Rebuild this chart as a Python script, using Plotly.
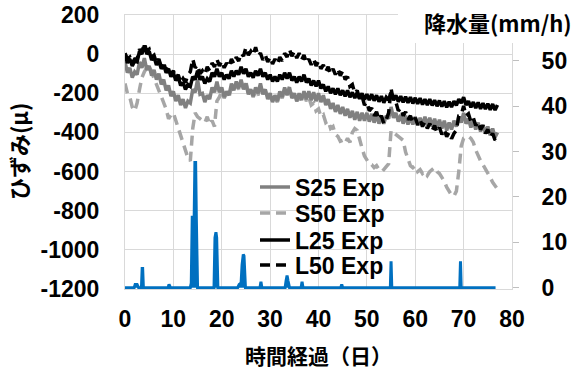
import plotly.graph_objects as go

# time axis (days), half-day steps from 0 to 77
t = [i * 0.5 for i in range(155)]

S25 = [-40, -95, -70, -120, -90, -105, -40, -70, -20, -80,
       -60, -110, -80, -130, -100, -155, -130, -185, -160, -215,
       -190, -240, -210, -260, -230, -275, -240, -250, -180, -195,
       -130, -205, -200, -245, -210, -230, -170, -195, -140, -195,
       -170, -220, -190, -210, -150, -185, -140, -175, -130, -180,
       -150, -205, -180, -215, -170, -200, -150, -205, -180, -230,
       -200, -245, -210, -240, -190, -220, -170, -210, -170, -225,
       -200, -240, -200, -235, -190, -230, -190, -235, -195, -240,
       -200, -245, -210, -260, -230, -280, -250, -295, -260, -305,
       -270, -315, -280, -325, -290, -335, -295, -340, -300, -340,
       -300, -345, -305, -350, -310, -355, -315, -355, -315, -330,
       -270, -325, -300, -345, -310, -355, -315, -360, -320, -360,
       -320, -365, -325, -362, -320, -365, -325, -370, -330, -375,
       -335, -380, -340, -390, -350, -385, -340, -370, -320, -350,
       -300, -355, -330, -375, -340, -385, -350, -395, -360, -405,
       -370, -415, -380, -425, -400]

S50 = [-150, -200, -220, -270, -290, -250, -180, -120, -90, -70,
       -60, -90, -130, -160, -190, -210, -240, -280, -330, -310,
       -300, -340, -380, -420, -460, -500, -530, -545, -380, -300,
       -320, -330, -340, -350, -320, -360, -340, -370, -240, -220,
       -190, -225, -200, -220, -170, -190, -155, -180, -145, -175,
       -140, -200, -185, -220, -190, -210, -160, -200, -185, -230,
       -210, -245, -225, -245, -200, -225, -180, -205, -165, -220,
       -205, -240, -215, -240, -205, -240, -220, -260, -250, -290,
       -280, -320, -310, -350, -340, -380, -370, -410, -420, -445,
       -440, -455, -430, -450, -400, -380, -390, -440, -480, -520,
       -540, -560, -565, -580, -570, -590, -580, -590, -575, -560,
       -390, -400, -410, -420, -425, -440, -500, -540, -570, -580,
       -570, -600, -590, -610, -600, -620, -600, -590, -580, -600,
       -610, -630, -650, -680, -700, -720, -725, -700, -600, -470,
       -430, -425, -420, -430, -450, -490, -520, -545, -565, -585,
       -605, -630, -655, -675, -690]

L25 = [-5, -45, -25, -60, -35, -40, 15, 0, 45, 0,
       15, -30, -15, -55, -35, -75, -55, -95, -75, -115,
       -95, -135, -115, -160, -145, -180, -155, -165, -115, -130,
       -85, -130, -115, -150, -125, -140, -95, -115, -75, -115,
       -95, -130, -105, -125, -85, -115, -85, -105, -65, -100,
       -75, -115, -95, -120, -85, -110, -75, -115, -95, -130,
       -105, -140, -115, -140, -105, -130, -95, -125, -95, -135,
       -115, -145, -115, -140, -105, -145, -125, -160, -135, -165,
       -135, -175, -155, -190, -165, -200, -175, -205, -175, -210,
       -185, -215, -185, -220, -195, -225, -195, -228, -200, -232,
       -205, -235, -205, -238, -210, -243, -215, -248, -220, -235,
       -195, -235, -210, -243, -215, -246, -217, -249, -220, -252,
       -223, -254, -225, -258, -230, -260, -230, -262, -235, -266,
       -237, -268, -240, -272, -243, -270, -240, -262, -230, -250,
       -220, -260, -240, -272, -245, -276, -247, -279, -250, -281,
       -253, -284, -255, -286, -260]

L50 = [5, -25, -15, -45, -25, -25, 25, 10, 55, 15,
       25, -15, -5, -45, -25, -65, -45, -85, -65, -105,
       -85, -125, -105, -145, -125, -145, -105, -90, -25, -70,
       -55, -100, -85, -105, -65, -85, -45, -65, -25, -60,
       -35, -70, -45, -65, -25, -50, -15, -35, 5, -10,
       35, -5, 15, -5, 35, -10, 5, -30, -5, -40,
       -15, -50, -25, -50, -15, -35, 5, -15, 25, -10,
       15, -20, 5, -30, -5, -45, -25, -55, -25, -60,
       -35, -75, -55, -90, -65, -100, -75, -105, -75, -110,
       -85, -130, -115, -165, -155, -200, -185, -230, -215, -260,
       -245, -290, -275, -315, -295, -335, -315, -355, -335, -300,
       -175, -240, -245, -290, -275, -315, -295, -335, -315, -350,
       -325, -360, -335, -370, -345, -380, -355, -390, -365, -400,
       -375, -410, -385, -422, -400, -432, -405, -390, -315, -310,
       -265, -315, -305, -345, -325, -365, -345, -385, -365, -405,
       -385, -425, -405, -440, -420]

rain_t = [0, 1.9, 2.1, 2.5, 2.8, 3.4, 3.55, 3.65, 3.8, 8.9, 9.1, 9.4,
          13.5, 13.7, 13.9, 14.3, 14.45, 14.6, 14.75, 15.0,
          18.4, 18.6, 18.8, 18.95, 19.2,
          23.3, 23.6, 24.0, 24.2, 24.45, 24.6, 24.9,
          27.9, 28.1, 28.3, 33.1, 33.3, 33.5, 33.7, 34.0,
          36.4, 36.6, 36.8, 44.6, 44.8, 45.0, 54.85, 55.0, 55.15,
          69.2, 69.35, 69.5, 76.6]
rain_v = [0, 0, 0.7, 0.7, 0, 0, 4.2, 4.2, 0, 0, 0.7, 0,
          0, 1, 15.5, 15.5, 27.6, 27.6, 15, 0,
          0, 11, 12.2, 11, 0,
          0, 0.7, 1, 5, 7.3, 7, 0,
          0, 1.3, 0, 0, 1.5, 2.7, 1.5, 0,
          0, 1.3, 0, 0, 0.7, 0, 0, 5.8, 0,
          0, 5.8, 0, 0]

x_ticks = [0, 10, 20, 30, 40, 50, 60, 70, 80]
y_ticks = [-1200, -1000, -800, -600, -400, -200, 0, 200]
y_ticklabels = ["-1200", "-1000", "-800", "-600", "-400", "-200", "0", "200"]
y2_ticks = [0, 10, 20, 30, 40, 50]

FONT = "Liberation Sans, Arial, Noto Sans CJK JP"
GRID = "#d9d9d9"
PLOT_L, PLOT_R, PLOT_T, PLOT_B = 125, 512, 15, 289
W, H = 576, 371


def px_x(px):
    return (px - PLOT_L) / (PLOT_R - PLOT_L)


def px_y(py):
    return (PLOT_B - py) / (PLOT_B - PLOT_T)


fig = go.Figure()
fig.add_trace(go.Scatter(x=t, y=S50, name="S50 Exp", mode="lines", legend="legend2",
                         line=dict(color="#a6a6a6", width=3.5, dash="10px,6px")))
fig.add_trace(go.Scatter(x=t, y=S25, name="S25 Exp", mode="lines", legend="legend",
                         line=dict(color="#808080", width=3.5)))
fig.add_trace(go.Scatter(x=t, y=L50, name="L50 Exp", mode="lines", legend="legend4",
                         line=dict(color="#000000", width=3.5, dash="10px,6px")))
fig.add_trace(go.Scatter(x=t, y=L25, name="L25 Exp", mode="lines", legend="legend3",
                         line=dict(color="#000000", width=3.5)))
fig.add_trace(go.Scatter(x=rain_t, y=rain_v, yaxis="y2", mode="lines", showlegend=False,
                         fill="tozeroy", fillcolor="#0070c0",
                         line=dict(color="#0070c0", width=3)))

legend_rows = [187, 213, 240, 265]
leg_common = dict(xanchor="left", yanchor="middle", bgcolor="rgba(0,0,0,0)",
                  font=dict(size=23, family=FONT, weight="bold"))

fig.update_layout(
    width=W, height=H,
    margin=dict(l=PLOT_L, r=W - PLOT_R, t=PLOT_T, b=H - PLOT_B, autoexpand=False),
    paper_bgcolor="white", plot_bgcolor="white",
    font=dict(family=FONT, size=23, color="black", weight="bold"),
    xaxis=dict(range=[0, 80], tickvals=x_ticks, showgrid=True, gridcolor=GRID, gridwidth=1,
               zeroline=False, showline=True, linecolor=GRID, mirror=True, automargin=False,
               ticks="", ticklabelstandoff=9),
    yaxis=dict(range=[-1200, 200], tickvals=y_ticks, ticktext=y_ticklabels,
               showgrid=True, gridcolor=GRID, gridwidth=1,
               zeroline=False, showline=True, linecolor=GRID, mirror=True, automargin=False,
               ticks="", ticklabelstandoff=20),
    yaxis2=dict(range=[-0.3, 60.1], tickvals=y2_ticks, overlaying="y", side="right",
                showgrid=False, zeroline=False, ticks="outside", ticklen=6, automargin=False,
                tickcolor="#bfbfbf", ticklabelstandoff=18),
    legend=dict(x=px_x(255), y=px_y(legend_rows[0]), **leg_common),
    legend2=dict(x=px_x(255), y=px_y(legend_rows[1]), **leg_common),
    legend3=dict(x=px_x(255), y=px_y(legend_rows[2]), **leg_common),
    legend4=dict(x=px_x(255), y=px_y(legend_rows[3]), **leg_common),
    showlegend=True,
    shapes=[dict(type="rect", xref="paper", yref="paper",
                 x0=px_x(398), x1=1.2, y0=px_y(43), y1=1.1,
                 fillcolor="white", line=dict(width=0), layer="above")],
    annotations=[
        dict(text="ひずみ(μ)", xref="paper", yref="paper", x=px_x(18), y=0.5,
             xanchor="center", yanchor="middle", textangle=-90, showarrow=False,
             font=dict(size=22, family="Noto Sans CJK JP", weight="bold")),
        dict(text="時間経過（日）", xref="paper", yref="paper", x=0.5, y=px_y(355),
             xanchor="center", yanchor="middle", showarrow=False,
             font=dict(size=21, family="Noto Sans CJK JP", weight="bold")),
        dict(text="降水量(mm/h)", xref="paper", yref="paper", x=px_x(574),
             y=px_y(22), xanchor="right", yanchor="middle", showarrow=False,
             font=dict(size=22, family="Noto Sans CJK JP, Liberation Sans", weight="bold")),
    ],
)

fig.write_html("out.html")
